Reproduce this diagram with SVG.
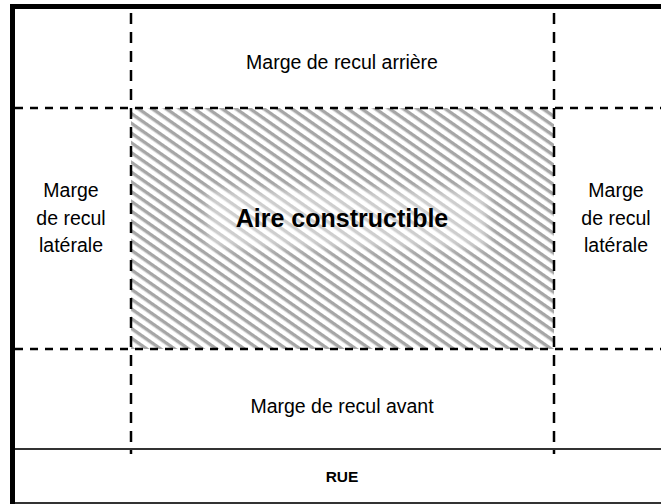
<svg xmlns="http://www.w3.org/2000/svg" width="661" height="504" viewBox="0 0 661 504">
  <style>
    .lbl { font-family: "Liberation Sans", Arial, sans-serif; font-size: 19.5px; fill: #000; text-anchor: middle; }
    .bold { font-family: "Liberation Sans", Arial, sans-serif; font-weight: bold; fill: #000; text-anchor: middle; }
    .dashH { stroke: #000; stroke-width: 2.5; stroke-dasharray: 8 7; fill: none; }
    .dashV { stroke: #000; stroke-width: 2.5; stroke-dasharray: 11 8; fill: none; }
    .thin { stroke: #333; stroke-width: 1.8; fill: none; }
    .thick { stroke: #000; stroke-width: 5; fill: none; }
  </style>
  <defs>
    <pattern id="hatch" patternUnits="userSpaceOnUse" width="20" height="8" patternTransform="rotate(35)">
      <rect x="0" y="0" width="20" height="8" fill="#fff"/>
      <rect x="0" y="0" width="20" height="3.4" fill="#a6a6a6"/>
    </pattern>
    <filter id="soft" x="-20%" y="-50%" width="140%" height="200%">
      <feGaussianBlur stdDeviation="4"/>
    </filter>
  </defs>
  <rect width="661" height="504" fill="#fff"/>

  <g id="aire-constructible">
    <rect x="131" y="108" width="423" height="241" fill="url(#hatch)"/>
    <rect x="208" y="190" width="280" height="58" fill="#fff" opacity="0.45" filter="url(#soft)"/>
    <text class="bold" x="342" y="227" font-size="25">Aire constructible</text>
  </g>

  <g id="boundary">
    <line class="thick" x1="10" y1="6.5" x2="661" y2="6.5"/>
    <line class="thick" x1="12.5" y1="4" x2="12.5" y2="504"/>
    <line class="thin" x1="15" y1="449" x2="661" y2="449"/>
    <line class="thin" x1="15" y1="503" x2="661" y2="503"/>
  </g>

  <g id="connectors">
    <line class="dashH" x1="15" y1="108" x2="661" y2="108"/>
    <line class="dashH" x1="15" y1="349" x2="661" y2="349"/>
    <line class="dashV" x1="131" y1="13" x2="131" y2="454"/>
    <line class="dashV" x1="554" y1="13" x2="554" y2="454"/>
  </g>

  <g id="marge-arriere">
    <text class="lbl" x="342" y="69">Marge de recul arrière</text>
  </g>
  <g id="marge-laterale-gauche">
    <text class="lbl" x="71" y="197">Marge</text>
    <text class="lbl" x="71" y="225">de recul</text>
    <text class="lbl" x="71" y="252">latérale</text>
  </g>
  <g id="marge-laterale-droite">
    <text class="lbl" x="616" y="197">Marge</text>
    <text class="lbl" x="616" y="225">de recul</text>
    <text class="lbl" x="616" y="252">latérale</text>
  </g>
  <g id="marge-avant">
    <text class="lbl" x="342" y="413">Marge de recul avant</text>
  </g>
  <g id="rue">
    <text class="bold" x="342" y="482" font-size="15.5">RUE</text>
  </g>
</svg>
